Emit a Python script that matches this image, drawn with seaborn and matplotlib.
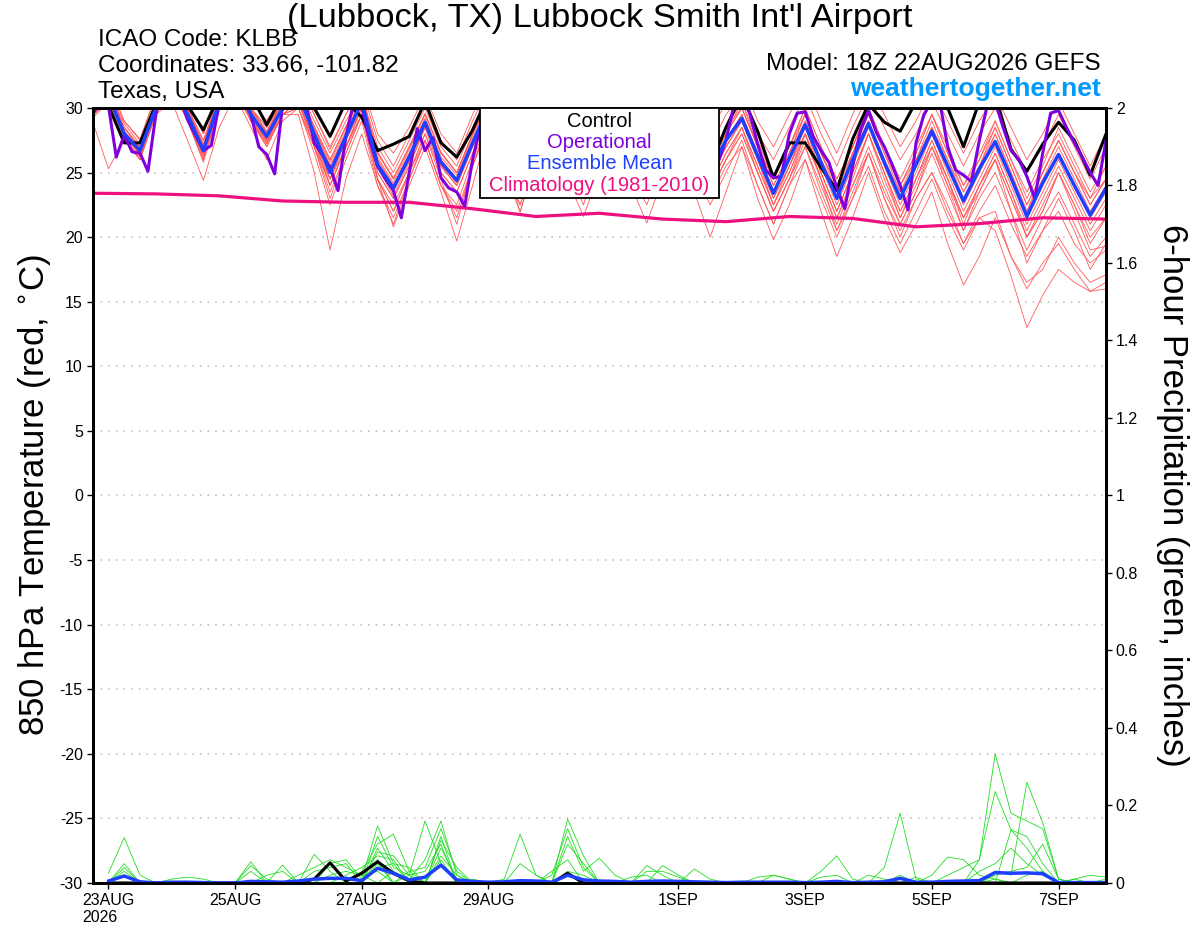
import numpy as np
import pandas as pd
import seaborn as sns
import matplotlib.pyplot as plt
import matplotlib.dates as mdates
from matplotlib.patches import Rectangle

# time axes (GEFS 18Z run, 6-hourly; operational 3-hourly)
temp_times = pd.date_range('2026-08-22 18:00', periods=65, freq='6h')
oper_times = pd.date_range('2026-08-22 18:00', periods=129, freq='3h')
precip_times = pd.date_range('2026-08-23 00:00', periods=64, freq='6h')
clim_times = pd.date_range('2026-08-22 18:00', periods=17, freq='24h')

tick_dates = ['2026-08-23', '2026-08-25', '2026-08-27', '2026-08-29',
              '2026-09-01', '2026-09-03', '2026-09-05', '2026-09-07']
tick_labels = ['23AUG\n2026', '25AUG', '27AUG', '29AUG', '1SEP', '3SEP', '5SEP', '7SEP']

# 850 hPa temperature, ensemble members (deg C)
temp_members = [
    [30.5,
     32, 29, 27.5, 31,  33, 30.5, 28, 31.5,  33, 30.5, 29, 31,  32, 29.5, 27, 29.5,
     32, 28, 26.5, 28.5,  31, 28, 26.5, 29.5,  32, 29, 27, 30,  32.5, 29.5, 27.5, 30.5,
     33, 30, 28, 31,  33, 30, 28, 30.5,  32, 29, 27, 29.5,  32, 29, 26.5, 29.5,
     32, 29.5, 27, 29,  31.5, 29, 26.5, 29,  31, 28.5, 26, 28,  30.5, 28, 25.5, 28],
    [29.5,
     30.5, 27.5, 26, 29.5,  31.5, 29, 26, 30,  31.5, 29, 27.5, 29.5,  30, 26.5, 22.5, 26,
     29, 24, 21.5, 24.5,  27.5, 24, 22.5, 26,  29, 25.5, 23, 27,  29.5, 26, 23.5, 27,
     29, 25.5, 23, 26.5,  29, 25.5, 23, 25.5,  27, 24, 21, 24,  26, 23, 20, 23,
     25.5, 22, 19.5, 22,  24.5, 21.5, 19, 21.5,  22, 18.5, 16, 18,  19.5, 17.5, 15.8, 16.5],
    [30,
     31.5, 28.5, 27, 30.5,  32.5, 30, 27.5, 31,  32.5, 30, 28.5, 30.5,  31.5, 28.5, 26, 28.5,
     31, 26.5, 24.5, 27,  29.5, 26.5, 25, 28,  31, 28, 25.5, 29,  31, 28, 26, 29,
     31.5, 28.5, 26, 29,  31, 28, 26, 28.5,  30, 27, 24.5, 27,  29.5, 26.5, 24, 27,
     30, 27, 24.5, 27,  29.5, 27, 24, 26.5,  29, 26, 23.5, 26,  28, 25.5, 23, 25.5],
    [29.2,
     30.5, 27.5, 26.2, 29.5,  31.5, 29, 26, 30,  31.5, 29, 27, 29.5,  30.5, 27, 24, 27,
     29.5, 24.5, 22.5, 25,  28, 25, 23.5, 26.5,  29.5, 26, 24, 27,  30, 26.5, 24.5, 27.5,
     30, 26.5, 24, 27,  30, 26.5, 24, 26.5,  28.5, 25.5, 22.5, 25,  28, 24.5, 21.5, 24.5,
     28, 24.5, 21.5, 24,  27, 24, 20.5, 23.5,  26, 22, 18, 20.5,  23, 20.5, 17.5, 19.5],
    [29.8,
     31, 28, 26.5, 30,  32, 29.5, 26.5, 30,  32, 29, 27, 29.5,  29.5, 25, 19, 24.5,
     28, 24, 21, 24.5,  27.5, 24, 21.5, 25.5,  29, 25.5, 23, 27,  30, 26.5, 24, 27.5,
     30, 26.5, 24.5, 27.5,  30.5, 27, 24.5, 27.5,  29.5, 26.5, 23.5, 26.5,  29, 26, 23, 26.5,
     29.5, 26.5, 23.5, 26,  28.5, 26, 23, 25.5,  28, 25, 22, 25,  27.5, 25, 22.5, 24.5],
    [30.2,
     31.5, 28.5, 26.8, 30.5,  32.5, 30, 27, 31,  32.5, 30, 28, 30.5,  31, 28, 25.5, 28,
     30.5, 26, 24, 26.5,  29, 26, 24.5, 27.5,  30.5, 27.5, 25.5, 28.5,  31, 27.5, 25.5, 28.5,
     31, 27.5, 25.5, 28,  31, 28, 25.5, 28,  30, 27, 24, 26.5,  29.5, 26.5, 24, 26.5,
     29, 26, 23, 25.5,  28.5, 25.5, 22.5, 25,  28, 25, 22, 24.5,  27, 24.5, 22, 24],
    [29,
     25.3, 27.5, 26, 29.5,  30.5, 27.5, 24.4, 28.5,  31, 28.5, 26, 29,  30, 27, 23.5, 26.5,
     29.5, 24.5, 22, 25,  27.5, 24, 22, 25.5,  28.5, 25, 22, 26,  29, 25.5, 23, 26.5,
     29, 25, 22.5, 26,  29, 25, 22.5, 25,  27.5, 24, 21, 24,  27, 23.5, 20.5, 23.5,
     26.5, 23, 20, 23,  25, 22, 19.5, 22,  24, 21, 18.5, 20.5,  22, 19.5, 18, 19],
    [30,
     31.5, 28.5, 27, 30.5,  32.5, 30, 27.5, 31,  32.5, 30, 28.5, 30.5,  31.5, 29, 26.5, 29,
     31, 27, 25, 27.5,  30, 27, 25.5, 28.5,  31, 28, 26, 29,  31.5, 28, 26, 29,
     31.5, 28, 26, 29,  31.5, 28.5, 26, 28.5,  30.5, 27.5, 24.5, 27,  30, 27, 24.5, 27,
     30, 27, 24, 26.5,  29.5, 26.5, 24, 26,  28.5, 25.5, 22.5, 25,  27.5, 25, 22.5, 24.5],
    [29.5,
     31, 28, 26.5, 30,  32, 29.5, 26.5, 30.5,  32, 29.5, 27.5, 30,  30.5, 27.5, 24, 27,
     30, 25, 23, 25.5,  28.5, 25, 23.5, 26.5,  29.5, 26.5, 24, 27.5,  30, 26.5, 24.5, 27.5,
     30, 26.5, 24, 27,  29.5, 26, 23.5, 26,  28, 25, 22, 24.5,  27, 24, 21, 24,
     26.5, 23, 20.5, 23,  25, 22.5, 19.5, 21.5,  20.5, 17, 13, 15.5,  17.5, 16.5, 15.8, 16],
    [30,
     31, 28, 26.8, 30,  32, 29.5, 27, 30.5,  32, 29.5, 28, 30,  31, 28.5, 25.5, 28,
     30.5, 26, 24, 26.5,  29, 26, 24.5, 27.5,  30, 27, 25, 28,  30.5, 27, 25, 28,
     30.5, 27.5, 25, 28,  30.5, 27.5, 25.5, 27.5,  29.5, 26.5, 23.5, 26,  29, 26, 23.5, 26,
     29, 26, 23.5, 25.5,  28.5, 25.5, 23, 25,  27.5, 24.5, 21.5, 24,  26.5, 24, 21.5, 23.5],
    [29.6,
     30.8, 27.8, 26, 29.8,  31.8, 29, 25.8, 29.8,  31.5, 29, 27.2, 29.5,  30.5, 27, 24.5, 27,
     30, 25, 23, 25.5,  28.5, 25.5, 24, 27,  29, 25.5, 22.5, 26.5,  29.5, 26, 23.5, 27,
     30, 26.5, 24, 27.5,  30, 26.5, 24.5, 27,  29, 26, 23, 25.5,  28, 25, 22, 25,
     28, 25, 22, 24.5,  27, 24.5, 21, 24,  26.5, 23.5, 20, 22.5,  25, 22.5, 19.5, 21.5],
    [30.3,
     31.5, 28.8, 27.2, 30.5,  32.5, 30, 27.2, 31,  32.5, 30, 28.2, 30.5,  31.5, 28.5, 26, 28.5,
     31, 26.5, 24.5, 27,  29.5, 26.5, 25, 28,  30.5, 27.5, 25.5, 28.5,  31, 27.5, 25.5, 28.5,
     31, 28, 25.5, 28.5,  31, 28, 25.5, 28,  30, 27, 24, 26.5,  29.5, 26.5, 23.5, 26.5,
     29.5, 26.5, 24, 26,  29, 26, 23.5, 25.5,  28.5, 25.5, 22.5, 25,  27.5, 25, 23, 24.5],
    [29.4,
     30.5, 27.5, 26.3, 29.5,  31.5, 29, 26.2, 30,  31.5, 29, 27.3, 29.5,  30, 27, 23, 26.5,
     29.5, 24.5, 22, 25,  28, 24.5, 21, 25.5,  29, 25.5, 23, 26.5,  29.5, 25.5, 22.5, 26.5,
     29.5, 26, 23, 26.5,  29.5, 26, 23.5, 26,  28.5, 25, 22, 24.5,  28, 24.5, 21.5, 24,
     27, 24, 21, 23.5,  26.5, 23.5, 20.5, 23,  25, 22, 19, 21.5,  23.5, 21, 18.5, 20],
    [30.1,
     31.2, 28.2, 26.9, 30.2,  32.2, 29.8, 27.1, 30.8,  32.2, 29.8, 28.1, 30.2,  31.2, 28.2, 25.8, 28.2,
     30.8, 26.2, 24.2, 26.8,  29.2, 26.2, 24.8, 27.8,  30.5, 27.5, 25.5, 28.5,  30.5, 27, 24.5, 27.5,
     30.5, 27, 24.5, 27.5,  30.5, 27, 24.5, 27,  29, 26, 23, 25.5,  28.5, 25.5, 22.5, 25.5,
     28.5, 25.5, 22.5, 25,  28, 25, 22, 24.5,  27, 24, 21, 23.5,  26, 23.5, 21, 23],
    [29.7,
     30.8, 27.8, 26.4, 29.8,  31.8, 29.2, 26.4, 30.2,  31.8, 29.2, 27.6, 29.8,  30.5, 27.5, 24.5, 27.5,
     30, 25.5, 23.5, 26,  28.5, 25.5, 24, 27,  29.5, 26.5, 24, 27.5,  30, 26.5, 24.5, 27.5,
     29.5, 26, 23.5, 26.5,  29.5, 26, 23.5, 26,  28, 25, 22, 24.5,  27.5, 24.5, 20.5, 23,
     26.5, 23.5, 21, 23.5,  27, 24, 21.5, 23.5,  26, 23, 20, 22,  25, 22.5, 20, 21.5],
    [30.4,
     31.8, 29, 27.6, 31,  32.8, 30.5, 28, 31.5,  33, 30.5, 29, 31,  32, 29.5, 26.8, 29.5,
     31.5, 27.5, 25.5, 28,  30.5, 27.5, 26, 29,  31.5, 28.5, 26.5, 29.5,  32, 29, 27, 30,
     32, 29, 27, 30,  32, 29, 27, 29.5,  31, 28, 26, 28.5,  31, 28, 25.5, 28.5,
     31, 28.5, 26, 28,  30.5, 28, 25.5, 28,  30, 27.5, 25, 27,  29.5, 27, 24.5, 27],
    [29.9,
     31, 28.2, 26.6, 30,  32, 29.6, 26.8, 30.4,  32, 29.6, 27.8, 30,  31, 28, 25.2, 27.8,
     30.4, 25.8, 23.6, 26,  28.8, 25.8, 24.2, 27.2,  29.5, 26.5, 21.9, 26,  30, 26.5, 24, 27.5,
     30, 26, 23.5, 27,  30, 26.5, 24, 26.5,  28.5, 25.5, 22.5, 25,  28, 25, 22, 25,
     28, 25, 22, 24.5,  27.5, 24.5, 21.5, 24,  26.5, 23.5, 20.5, 23,  25.5, 23, 20.5, 22.5],
    [29.6,
     30.8, 27.8, 26.4, 29.8,  31.8, 29.2, 26.3, 30.2,  31.8, 29.2, 27.4, 29.8,  30.5, 27.5, 24, 27,
     29.5, 24.5, 20.8, 24,  27, 23.5, 19.7, 24,  28.5, 25, 22.5, 26,  28.5, 24.5, 21.6, 25,
     28.5, 24, 21.1, 24.5,  28, 23.5, 20, 23.5,  27, 23, 19.8, 22.5,  26, 22, 18.5, 21.5,
     25, 21.5, 18.8, 21,  23.5, 19.5, 16.3, 18.5,  21.5, 18.5, 16.5, 17.5,  20, 18, 16.5, 17.1],
    [30.1,
     31.2, 28.4, 27, 30.4,  32.2, 29.8, 27.2, 30.8,  32.2, 29.8, 28.2, 30.4,  31.4, 28.6, 26, 28.6,
     31, 26.6, 24.6, 27,  29.6, 26.6, 25, 28,  30.5, 27.5, 25.5, 28.5,  31, 28, 25.5, 28.5,
     31.5, 28, 25.5, 28.5,  31.5, 28, 26, 28,  30.5, 27, 24.5, 27,  30, 27, 24.5, 27,
     30, 27, 24, 26.5,  29.5, 26.5, 23.5, 26,  29, 26, 23, 25.5,  28.5, 26, 23.5, 25.5],
    [29.8,
     30.9, 28, 26.6, 30,  31.9, 29.4, 26.6, 30.4,  31.9, 29.4, 27.6, 30,  30.8, 28, 24.5, 27.5,
     30.2, 25.4, 23.2, 25.8,  28.6, 25.6, 24, 27,  30, 26.5, 24.5, 27.5,  30, 26.5, 24.5, 27.5,
     30.5, 27, 25, 28,  30, 27, 24.5, 27,  29, 26, 22.5, 25.5,  28.5, 25, 22, 25,
     28, 25, 21.5, 24.5,  27.5, 24.5, 21.5, 24,  26, 23, 20, 22,  25, 22, 19, 19.3],
]

control_temp = [31,
    30.2, 27.3, 27.3, 30.3,  32, 30.2, 28.3, 31,  32, 31, 28.7, 31,  32, 30, 27.8, 30.5,
    29.3, 26.7, 27.2, 27.8,  30.5, 27.3, 26.2, 28.3,  31, 28, 26, 29,  31, 28, 26, 29,
    31, 28, 26, 29,  31, 28, 25.5, 28.5,  31, 28.2, 24.6, 27.3,  27.3, 25.4, 23.6, 27.6,
    30.3, 28.9, 28.2, 30.5,  31, 30, 27.0, 30.5,  31, 26.8, 25.1, 27.2,  28.9, 27.5, 24.8, 28.0]

mean_temp = [29.8,
    31, 28, 26.7, 30,  32, 29.5, 26.7, 30.5,  32, 29.5, 27.8, 30,  31, 28, 25, 27.8,
    30.5, 25.6, 23.8, 26.2,  28.9, 25.8, 24.4, 27.3,  30, 27, 25, 28,  30.5, 27, 25, 28,
    30.5, 27, 25, 28,  30.5, 27.5, 25.2, 27.5,  29.2, 26.3, 23.4, 26.1,  28.7, 25.8, 23.0, 26.0,
    28.8, 25.8, 23.0, 25.6,  28.2, 25.5, 22.8, 25.3,  27.4, 24.6, 21.6, 24.2,  26.4, 24.0, 21.7, 23.8]

oper_temp = [
    29.5, 30.5, 30.2, 26.2, 27.9, 26.6, 26.5, 25.1, 29.5, 32,
    32.5, 31, 29.1, 27.9, 26.7, 27.1, 30.3, 32, 32.5, 31.5,
    29.5, 27.0, 26.4, 24.9, 30.2, 32, 32.5, 30.2, 27.3, 26.4,
    25.4, 23.6, 27.8, 30.5, 30.1, 27.5, 25.5, 24.5, 23.6, 21.5,
    25.0, 28.4, 26.7, 27.7, 24.6, 23.8, 23.5, 22.4, 26.0, 28.6,
    30.5, 30, 28.5, 27, 26, 25.5, 27.5, 30, 31, 30.5,
    28.5, 27, 26, 25.5, 27.5, 30, 31, 30.5, 28.5, 27,
    26, 25.5, 27.5, 30, 30.5, 29, 27.5, 26, 25,
    25.8, 27.5, 30.2, 31, 29.6, 27.2, 25.2, 24.6, 24.7, 28.0,
    29.6, 29.7, 27.8, 26.7, 25.8, 23.8, 22.2, 25.5, 28.3, 29.8,
    28.1, 27.0, 25.6, 24.0, 22.1, 27.3, 29.5, 30.5, 30.5, 27,
    25.2, 24.8, 24.3, 27.5, 30.2, 30.5, 28.5, 26.7, 26, 24.7,
    23.0, 26.5, 29.6, 29.8, 28.5, 27.3, 26.2, 25, 24.0, 27.5]

clim_temp = [23.4, 23.35, 23.2, 22.8, 22.7, 22.7, 22.2, 21.6, 21.85,
             21.4, 21.2, 21.6, 21.45, 20.8, 21.05, 21.5, 21.4]

# 6-hour precipitation (inches)
precip_members = [
    [.025, .117, .02, 0,  0, 0, 0, 0,  0, 0, 0, 0,  0, 0, 0, 0,
     0, .04, .05, .04,  0, .09, .01, 0,  0, 0, 0, 0,  0, 0, 0, 0,
     0, 0, 0, 0,  0, 0, 0, 0,  0, 0, 0, 0,  0, .03, .07, .01,
     0, 0, 0, 0,  0, 0, 0, 0,  0, 0, 0, 0,  0, 0, 0, 0],
    [0, .04, 0, 0,  0, 0, 0, 0,  0, 0, 0, 0,  0, 0, 0, .02,
     .04, .07, .06, 0,  0, .07, .02, 0,  0, 0, 0, 0,  0, 0, 0, 0,
     0, 0, 0, 0,  0, 0, 0, 0,  0, 0, 0, 0,  0, .015, .02, 0,
     0, 0, 0, 0,  0, 0, 0, 0,  0, 0, 0, 0,  0, 0, 0, 0],
    [0, .03, 0, 0,  0, 0, 0, 0,  0, 0, 0, 0,  0, .03, .04, .05,
     0, .05, 0, 0,  0, .12, 0, .01,  0, 0, 0, 0,  0, 0, 0, 0,
     0, 0, 0, 0,  0, 0, 0, 0,  0, 0, 0, 0,  0, 0, 0, 0,
     .02, .01, 0, 0,  0, 0, 0, 0,  0, 0, 0, 0,  0, 0, 0, 0],
    [0, .02, 0, 0,  0, 0, 0, 0,  0, 0, 0, 0,  0, 0, .02, .03,
     .02, .03, 0, 0,  0, .06, 0, 0,  0, 0, 0, 0,  0, 0, 0, 0,
     0, 0, 0, 0,  0, 0, 0, 0,  0, 0, 0, 0,  0, 0, 0, 0,
     0, .04, .18, .01,  0, 0, 0, 0,  0, 0, 0, 0,  0, 0, 0, 0],
    [0, .05, 0, 0,  0, 0, 0, 0,  0, 0, 0, 0,  0, 0, 0, 0,
     0, 0, 0, .02,  .03, .1, 0, 0,  0, 0, 0, 0,  0, 0, 0, 0,
     0, 0, 0, 0,  0, 0, 0, 0,  0, 0, 0, 0,  0, 0, 0, 0,
     0, 0, .02, 0,  0, 0, 0, 0,  0, 0, 0, 0,  0, 0, 0, 0],
    [0, 0, 0, 0,  .01, .015, .01, 0,  0, 0, 0, 0,  0, 0, 0, 0,
     0, 0, 0, 0,  0, 0, 0, 0,  0, .01, .126, .02,  0, 0, 0, 0,
     0, 0, 0, 0,  0, 0, 0, 0,  0, 0, 0, 0,  0, 0, 0, 0,
     0, 0, 0, .015,  0, 0, 0, 0,  0, 0, 0, 0,  0, 0, 0, 0],
    [0, 0, 0, 0,  0, 0, 0, 0,  0, .055, 0, 0,  0, 0, 0, 0,
     0, 0, 0, 0,  0, 0, 0, 0,  0, 0, .05, .02,  0, 0, 0, 0,
     0, 0, 0, 0,  0, 0, 0, 0,  0, 0, 0, 0,  0, 0, 0, 0,
     0, 0, 0, 0,  .02, .067, .06, .02,  .01, 0, 0, 0,  0, 0, 0, 0],
    [0, 0, 0, 0,  0, 0, 0, 0,  0, .045, .01, 0,  0, 0, 0, 0,
     0, 0, 0, 0,  0, 0, 0, 0,  0, 0, 0, 0,  0, .165, .07, 0,
     0, 0, 0, 0,  0, 0, 0, 0,  0, 0, 0, 0,  0, 0, 0, 0,
     0, 0, 0, 0,  0, .02, .04, .06,  .236, .137, .12, .05,  0, 0, 0, 0],
    [0, 0, 0, 0,  0, 0, 0, 0,  0, .03, 0, 0,  0, 0, 0, 0,
     0, 0, 0, 0,  0, 0, 0, 0,  0, 0, 0, 0,  .02, .14, .04, 0,
     0, 0, 0, 0,  0, 0, 0, 0,  0, 0, 0, 0,  0, 0, 0, 0,
     0, 0, 0, 0,  0, 0, 0, .06,  .333, .18, .16, .14,  .01, 0, 0, 0],
    [0, 0, 0, 0,  0, 0, 0, 0,  0, 0, 0, .046,  0, 0, 0, 0,
     0, 0, 0, 0,  0, 0, 0, 0,  0, 0, 0, 0,  0, .12, .03, .064,
     .02, 0, 0, 0,  0, 0, 0, 0,  0, 0, 0, 0,  0, 0, 0, 0,
     0, 0, 0, 0,  0, 0, 0, 0,  .03, .02, .26, .156,  .01, 0, 0, 0],
    [0, 0, 0, 0,  0, 0, 0, 0,  0, 0, .02, .03,  0, 0, 0, 0,
     0, 0, 0, 0,  0, 0, 0, 0,  0, 0, 0, 0,  0, .1, .05, 0,
     0, 0, 0, 0,  0, 0, 0, 0,  0, 0, 0, 0,  0, 0, 0, 0,
     0, 0, 0, 0,  0, 0, 0, 0,  0, .137, .09, .03,  0, 0, 0, 0],
    [0, 0, 0, 0,  0, 0, 0, 0,  0, 0, 0, 0,  0, .074, .03, 0,
     0, 0, 0, 0,  0, 0, 0, 0,  0, 0, 0, 0,  .03, .06, 0, 0,
     0, 0, 0, 0,  0, 0, 0, 0,  0, 0, 0, 0,  0, 0, 0, 0,
     0, 0, 0, 0,  0, 0, 0, .03,  .05, .09, .05, .02,  0, 0, 0, 0],
    [0, 0, 0, 0,  0, 0, 0, 0,  0, 0, 0, 0,  .02, .04, .06, .04,
     .02, 0, 0, 0,  0, 0, 0, 0,  0, 0, 0, 0,  0, .03, .02, 0,
     0, 0, 0, 0,  0, 0, 0, 0,  0, 0, 0, 0,  0, 0, 0, 0,
     0, 0, 0, 0,  0, 0, 0, 0,  .02, .03, .04, .1,  .01, 0, 0, 0],
    [0, 0, 0, 0,  0, 0, 0, 0,  0, 0, 0, 0,  0, 0, .05, .06,
     .01, .147, .05, 0,  0, 0, 0, 0,  0, 0, 0, 0,  0, 0, 0, 0,
     0, 0, .045, .02,  0, 0, 0, 0,  0, 0, 0, 0,  0, 0, 0, 0,
     0, 0, 0, 0,  0, 0, 0, 0,  .01, 0, .02, .03,  0, 0, 0, 0],
    [0, 0, 0, 0,  0, 0, 0, 0,  0, 0, 0, 0,  0, 0, 0, 0,
     0, .12, .04, .02,  0, 0, 0, 0,  0, 0, 0, 0,  0, 0, 0, 0,
     0, 0, 0, .045,  .02, 0, 0, 0,  0, 0, 0, 0,  0, 0, 0, 0,
     0, 0, 0, 0,  0, 0, 0, 0,  0, 0, 0, 0,  0, .01, .02, .015],
    [0, 0, 0, 0,  0, 0, 0, 0,  0, 0, 0, 0,  0, 0, 0, 0,
     .03, .1, .126, .03,  0, 0, 0, 0,  0, 0, 0, 0,  0, 0, 0, 0,
     0, 0, .03, .03,  .015, 0, 0, 0,  0, 0, 0, 0,  0, 0, 0, 0,
     0, 0, 0, 0,  0, 0, 0, 0,  0, 0, 0, 0,  0, .01, 0, .01],
    [0, 0, 0, 0,  0, 0, 0, 0,  0, 0, 0, 0,  0, 0, 0, 0,
     0, .08, .07, .02,  .16, .05, 0, 0,  0, 0, 0, 0,  0, 0, 0, 0,
     0, 0, 0, 0,  0, .036, .01, 0,  0, 0, 0, 0,  0, 0, 0, 0,
     0, 0, 0, 0,  0, 0, 0, 0,  0, 0, 0, 0,  0, 0, 0, 0],
    [0, 0, 0, 0,  0, 0, 0, 0,  0, 0, 0, 0,  0, 0, 0, 0,
     0, 0, .03, .01,  .06, .16, .02, 0,  0, 0, 0, 0,  0, 0, 0, 0,
     0, .015, .02, 0,  0, 0, 0, 0,  0, 0, 0, 0,  0, 0, 0, 0,
     0, 0, 0, 0,  0, 0, 0, 0,  0, 0, 0, 0,  0, 0, 0, 0],
    [0, 0, 0, 0,  0, 0, 0, 0,  0, 0, 0, 0,  0, 0, 0, 0,
     0, .06, 0, .03,  .04, .14, .03, 0,  0, 0, 0, 0,  0, 0, 0, 0,
     0, 0, 0, 0,  0, 0, 0, 0,  0, .015, .02, .01,  0, 0, 0, 0,
     0, 0, 0, 0,  0, 0, 0, 0,  0, 0, 0, 0,  0, 0, 0, 0],
    [0, 0, 0, 0,  0, 0, 0, 0,  0, 0, 0, 0,  0, 0, 0, 0,
     0, .09, .03, 0,  0, .11, .04, 0,  0, 0, 0, 0,  0, 0, 0, 0,
     0, 0, 0, 0,  0, 0, 0, 0,  0, 0, .02, .01,  0, 0, 0, 0,
     0, 0, 0, 0,  0, 0, 0, 0,  0, 0, 0, 0,  0, 0, 0, 0],
]

control_precip = [0, 0, 0, 0,  0, 0, 0, 0,  0, 0, 0, 0,  0, .01, .052, .005,
    .025, .055, .025, .005,  0, 0, 0, 0,  0, 0, 0, 0,  0, .025, 0, 0,
    0, 0, 0, 0,  0, 0, 0, 0,  0, 0, 0, 0,  0, 0, 0, 0,
    0, 0, 0, 0,  0, 0, 0, 0,  0, 0, 0, 0,  0, 0, 0, 0]

mean_precip = [.005, .018, .003, 0,  .002, .002, .001, 0,  0, .004, .003, .002,  .005, .01, .012, .012,
    .006, .038, .025, .008,  .015, .046, .008, .004,  .002, .003, .006, .005,  .002, .02, .008, .005,
    .004, .002, .004, .005,  .004, .003, .002, .001,  .002, .002, .002, .002,  .001, .002, .004, .001,
    .002, .003, .012, .002,  .002, .004, .005, .006,  .027, .025, .026, .024,  .001, .001, .001, .001]

# long-form tables for seaborn
temp_df = pd.DataFrame([(t, k, v) for k, vals in enumerate(temp_members)
                        for t, v in zip(temp_times, vals)], columns=['time', 'member', 'temp'])
precip_df = pd.DataFrame([(t, k, v) for k, vals in enumerate(precip_members)
                          for t, v in zip(precip_times, vals)], columns=['time', 'member', 'precip'])

sns.set_style('ticks')
plt.rcParams['font.family'] = ['Liberation Sans', 'DejaVu Sans']
plt.rcParams['axes.unicode_minus'] = False
plt.rcParams['text.color'] = 'black'
plt.rcParams['xtick.color'] = 'black'
plt.rcParams['ytick.color'] = 'black'
plt.rcParams['axes.labelcolor'] = 'black'

fig = plt.figure(figsize=(12, 9.27), dpi=100)
ax = fig.add_axes([0.0771, 0.0475, 0.8446, 0.836])
ax2 = ax.twinx()

red = '#ff5a5a'
green = '#22dd22'
blue = '#1f3fff'
purple = '#7f00dd'
pink = '#ee0f80'

# temperature
sns.lineplot(data=temp_df, x='time', y='temp', units='member', estimator=None,
             color=red, linewidth=0.6, ax=ax, legend=False)
sns.lineplot(x=clim_times, y=clim_temp, estimator=None, color=pink, linewidth=2.3, ax=ax)
sns.lineplot(x=temp_times, y=control_temp, estimator=None, color='black', linewidth=2.2, ax=ax)
sns.lineplot(x=oper_times, y=oper_temp, estimator=None, color=purple, linewidth=2.2, ax=ax)
sns.lineplot(x=temp_times, y=mean_temp, estimator=None, color=blue, linewidth=2.5, ax=ax)

# precipitation
sns.lineplot(data=precip_df, x='time', y='precip', units='member', estimator=None,
             color=green, linewidth=0.6, ax=ax2, legend=False)
sns.lineplot(x=precip_times, y=control_precip, estimator=None, color='black', linewidth=2.2, ax=ax2)
sns.lineplot(x=precip_times, y=mean_precip, estimator=None, color=blue, linewidth=2.5, ax=ax2)

ax.set_xlim(temp_times[0], temp_times[-1])
ax.set_ylim(-30, 30)
ax2.set_ylim(0, 2)
ax.set_yticks(np.arange(-30, 31, 5))
ax2.set_yticks(np.arange(0, 2.01, 0.2))
ax2.set_yticklabels(['%g' % round(v, 1) for v in np.arange(0, 2.01, 0.2)])
ax.set_xticks(mdates.date2num(pd.to_datetime(tick_dates)))
ax.set_xticklabels(tick_labels)
ax.get_xticklabels()[0].set_multialignment('left')
ax.set_xlabel('')
ax.set_ylabel('')
ax2.set_ylabel('')

ax.yaxis.grid(True, color='#b8b8b8', linestyle=(0, (1, 4)), linewidth=1.1)
ax.xaxis.grid(False)

for a in (ax, ax2):
    for s in a.spines.values():
        s.set_linewidth(2)
        s.set_color('black')
        s.set_visible(True)
ax.tick_params(axis='both', direction='out', length=4, width=1, labelsize=11.5, pad=3)
ax2.tick_params(axis='y', direction='out', length=4, width=1, labelsize=11.5, pad=3)

# legend box
box = Rectangle((0.3823, 0.8839), 0.2359, 0.1161, transform=ax2.transAxes,
                facecolor='white', edgecolor='black', linewidth=1.3, zorder=20, clip_on=False)
ax2.add_artist(box)
legend_items = [('Control', 'black', 0.9832), ('Operational', purple, 0.9561),
                ('Ensemble Mean', blue, 0.929), ('Climatology (1981-2010)', pink, 0.9006)]
for label, col, yy in legend_items:
    ax2.text(0.5002, yy, label, color=col, fontsize=14.5, ha='center', va='center',
             transform=ax2.transAxes, zorder=21)

# header and axis titles
fig.text(0.5, 1 - 19 / 927, "(Lubbock, TX) Lubbock Smith Int'l Airport", fontsize=24.8,
         ha='center', va='center')
fig.text(98 / 1200, 1 - 40 / 927, 'ICAO Code: KLBB', fontsize=17.5, ha='left', va='center')
fig.text(98 / 1200, 1 - 66 / 927, 'Coordinates: 33.66, -101.82', fontsize=17.5, ha='left', va='center')
fig.text(98 / 1200, 1 - 92 / 927, 'Texas, USA', fontsize=17.5, ha='left', va='center')
fig.text(1101 / 1200, 1 - 64 / 927, 'Model: 18Z 22AUG2026 GEFS', fontsize=17.5, ha='right', va='center')
fig.text(1101 / 1200, 1 - 89 / 927, 'weathertogether.net', fontsize=19, fontweight='bold',
         color='#0099ff', ha='right', va='center')
fig.text(35 / 1200, 1 - 495 / 927, '850 hPa Temperature (red, $^{\\circ}$C)', fontsize=25,
         rotation=90, ha='center', va='center')
fig.text(1172 / 1200, 1 - 495 / 927, '6-hour Precipitation (green, inches)', fontsize=25,
         rotation=270, ha='center', va='center')

fig.savefig('out.png', dpi=100)
